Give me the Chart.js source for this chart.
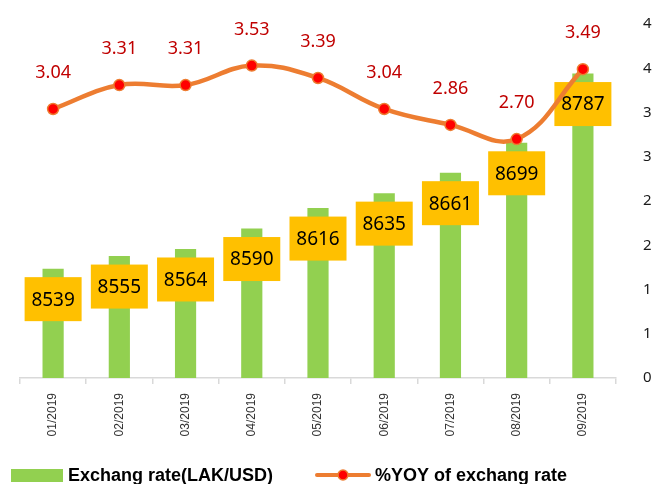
<!DOCTYPE html>
<html>
<head>
<meta charset="utf-8">
<script src="https://cdn.jsdelivr.net/npm/chart.js@4.4.1/dist/chart.umd.min.js"></script>
<style>
  html, body { margin: 0; padding: 0; background: #ffffff; }
  #wrap { width: 656px; height: 484px; position: relative; }
</style>
</head>
<body>
<div id="wrap"><canvas id="c" width="656" height="484"></canvas></div>
<script>
const categories = ['01/2019', '02/2019', '03/2019', '04/2019', '05/2019', '06/2019', '07/2019', '08/2019', '09/2019'];
const exchangeRate = [8539, 8555, 8564, 8590, 8616, 8635, 8661, 8699, 8787];
const yoyRate = [3.04, 3.31, 3.31, 3.53, 3.39, 3.04, 2.86, 2.70, 3.49];
const seriesNames = ['Exchang rate(LAK/USD)', '%YOY of exchang rate'];

const GREEN = '#92D050';
const ORANGE = '#ED7D31';
const RED_DOT = '#FF0000';
const LABEL_RED = '#C00000';
const BOX_YELLOW = '#FFC000';

const valueLabels = {
  id: 'valueLabels',
  afterDatasetDraw(chart, args) {
    const ds = chart.data.datasets[args.index];
    const ctx = chart.ctx;
    ctx.save();
    if (ds.type === 'bar') {
      args.meta.data.forEach((el, i) => {
        const cx = el.x, cy = el.y + 30.5;
        ctx.fillStyle = BOX_YELLOW;
        ctx.fillRect(cx - 28.5, cy - 22, 57, 44);
        ctx.fillStyle = '#000000';
        ctx.font = '19px "Noto Sans"';
        ctx.textAlign = 'center';
        ctx.textBaseline = 'middle';
        ctx.fillText(String(ds.data[i]), cx, cy + 1);
      });
    } else if (ds.type === 'line') {
      args.meta.data.forEach((el, i) => {
        ctx.fillStyle = LABEL_RED;
        ctx.font = '18px "Noto Sans"';
        ctx.textAlign = 'center';
        ctx.textBaseline = 'middle';
        ctx.fillText(ds.data[i].toFixed(2), el.x, el.y - 36);
      });
    }
    ctx.restore();
  }
};

const customLegend = {
  id: 'customLegend',
  afterDraw(chart) {
    const ctx = chart.ctx;
    ctx.save();
    ctx.fillStyle = GREEN;
    ctx.fillRect(11, 469, 52, 13);
    ctx.fillStyle = '#000000';
    ctx.font = 'bold 18px "Liberation Sans"';
    ctx.textAlign = 'left';
    ctx.textBaseline = 'alphabetic';
    ctx.fillText(seriesNames[0], 68, 481);
    ctx.strokeStyle = ORANGE;
    ctx.lineWidth = 4;
    ctx.lineCap = 'round';
    ctx.beginPath();
    ctx.moveTo(317, 475);
    ctx.lineTo(369, 475);
    ctx.stroke();
    ctx.beginPath();
    ctx.arc(343, 475, 5, 0, Math.PI * 2);
    ctx.fillStyle = RED_DOT;
    ctx.fill();
    ctx.lineWidth = 1.5;
    ctx.strokeStyle = ORANGE;
    ctx.stroke();
    ctx.fillStyle = '#000000';
    ctx.fillText(seriesNames[1], 375, 481);
    ctx.restore();
  }
};

function noScalePadding(scale) {
  scale.paddingTop = 0;
  scale.paddingBottom = 0;
  scale.paddingLeft = 0;
  scale.paddingRight = 0;
}

new Chart(document.getElementById('c'), {
  data: {
    labels: categories,
    datasets: [
      {
        type: 'line',
        label: seriesNames[1],
        data: yoyRate,
        yAxisID: 'yRight',
        borderColor: ORANGE,
        borderWidth: 4.5,
        tension: 0.4,
        pointRadius: 5.5,
        pointBackgroundColor: RED_DOT,
        pointBorderColor: ORANGE,
        pointBorderWidth: 1.5,
        pointHoverRadius: 5.5,
        fill: false,
        clip: false,
        order: 0
      },
      {
        type: 'bar',
        label: seriesNames[0],
        data: exchangeRate,
        yAxisID: 'yLeft',
        backgroundColor: GREEN,
        borderWidth: 0,
        categoryPercentage: 1,
        barPercentage: 0.32,
        order: 1
      }
    ]
  },
  options: {
    responsive: false,
    animation: false,
    devicePixelRatio: 1,
    layout: { padding: { top: 24, left: 20, right: 4, bottom: 48 } },
    plugins: {
      legend: { display: false },
      tooltip: { enabled: false },
      title: { display: false }
    },
    scales: {
      x: {
        offset: true,
        afterFit: (s) => { noScalePadding(s); s.height = 58; },
        grid: {
          display: true,
          offset: true,
          drawOnChartArea: false,
          drawTicks: true,
          tickLength: 6,
          color: '#D9D9D9',
          lineWidth: 1.5
        },
        border: { display: true, color: '#D9D9D9', width: 1.5 },
        ticks: {
          minRotation: 90,
          maxRotation: 90,
          padding: 9,
          color: '#333333',
          font: { family: '"Liberation Sans"', size: 12 }
        }
      },
      yLeft: {
        position: 'left',
        display: false,
        min: 8400,
        max: 8850
      },
      yRight: {
        position: 'right',
        min: 0,
        max: 4,
        afterFit: (s) => { noScalePadding(s); s.width = 36; },
        grid: { display: false, drawTicks: false },
        border: { display: false },
        ticks: {
          stepSize: 0.5,
          padding: 27,
          color: '#1a1a1a',
          font: { family: '"Noto Sans"', size: 15 },
          callback: (v) => String(Math.round(v))
        }
      }
    }
  },
  plugins: [valueLabels, customLegend]
});
</script>
</body>
</html>
